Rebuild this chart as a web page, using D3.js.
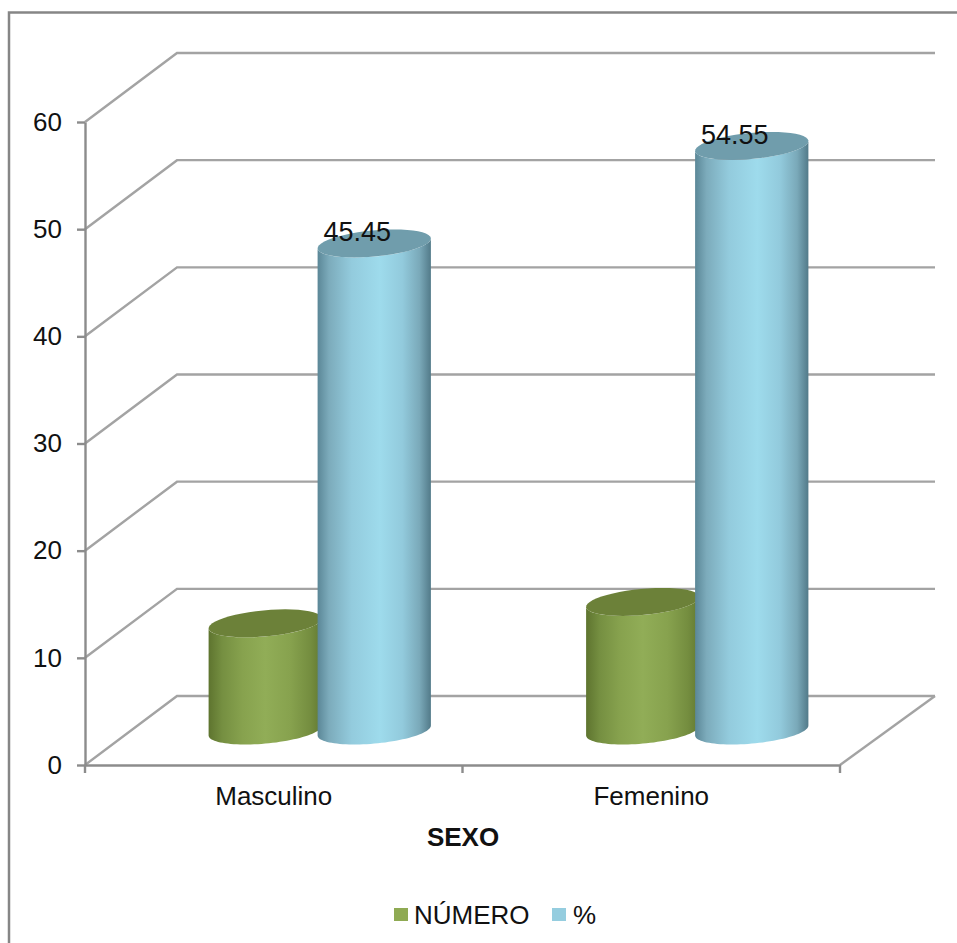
<!DOCTYPE html>
<html>
<head>
<meta charset="utf-8">
<script src="https://cdn.jsdelivr.net/npm/d3@7"></script>
<style>
  html, body { margin: 0; padding: 0; background: #fff; }
  svg { display: block; }
  text { font-family: "Liberation Sans", Arial, sans-serif; fill: #111; }
</style>
</head>
<body>
<div id="chart"></div>
<script>
// Chart data
const categories = ["Masculino", "Femenino"];
const seriesNames = ["NÚMERO", "%"];
const numero = [10, 12];
const porcentaje = [45.45, 54.55];
const yTicks = [0, 10, 20, 30, 40, 50, 60];
const axisTitle = "SEXO";

const width = 957, height = 943;
const svg = d3.select("#chart").append("svg").attr("width", width).attr("height", height);

// Front plane scales plus the depth vector of the 3-D box
const x = d3.scaleBand().domain(categories).range([85, 840]);
const y = d3.scaleLinear().domain([0, 60]).range([765, 122]);
const depth = { dx: 92, dy: -69 };
const gridColor = "#a3a3a3", axisColor = "#8c8c8c";
const fontSize = 26;

// Gradients that shade the cylinders
const defs = svg.append("defs");
function cylGradient(id, stops) {
  const g = defs.append("linearGradient").attr("id", id).attr("x1", 0).attr("x2", 1).attr("y1", 0).attr("y2", 0);
  stops.forEach(([o, c]) => g.append("stop").attr("offset", o).attr("stop-color", c));
}
cylGradient("grad-green", [[0, "#5e742f"], [0.12, "#758f41"], [0.3, "#87a24e"], [0.5, "#91ad57"], [0.72, "#87a24e"], [0.9, "#748d3f"], [1, "#627931"]]);
cylGradient("grad-blue", [[0, "#5b8797"], [0.1, "#7cabbb"], [0.3, "#93cbdd"], [0.55, "#9edbec"], [0.75, "#92cadc"], [0.9, "#7aa9b9"], [1, "#527a89"]]);

// Outer frame
svg.append("path").attr("d", "M9,943V12.5H957").attr("fill", "none").attr("stroke", "#868686").attr("stroke-width", 2.5);

// Back wall gridlines and the diagonals on the side wall
const grid = svg.append("g").attr("fill", "none");
grid.selectAll("path.wall").data(yTicks).join("path").attr("class", "wall")
  .attr("d", v => `M${x.range()[0]},${y(v)}l${depth.dx},${depth.dy}H${x.range()[1] + depth.dx + 3}`)
  .attr("stroke", gridColor).attr("stroke-width", 2.4);
grid.append("path")
  .attr("d", `M${x.range()[1]},${y(0)}l${depth.dx + 3},${depth.dy}`)
  .attr("stroke", gridColor).attr("stroke-width", 2.4);

// Axes
const axisY = svg.append("g").attr("transform", `translate(${x.range()[0]},0)`)
  .call(d3.axisLeft(y).tickValues(yTicks).tickSize(8).tickPadding(15).tickSizeOuter(0));
const axisX = svg.append("g").attr("transform", `translate(0,${y(0)})`)
  .call(d3.axisBottom(x).tickSize(0).tickPadding(22));
const xTickPositions = d3.range(categories.length + 1).map(i => x.range()[0] + i * x.step());
axisX.selectAll("line.sep").data(xTickPositions).join("line").attr("class", "sep")
  .attr("x1", d => d).attr("x2", d => d).attr("y1", 0).attr("y2", 8)
  .attr("stroke", axisColor).attr("stroke-width", 2.4);
[axisY, axisX].forEach(a => {
  a.selectAll(".domain").attr("stroke", axisColor).attr("stroke-width", 2.4);
  a.selectAll(".tick line").attr("stroke", axisColor).attr("stroke-width", 2.4);
  a.selectAll("text").attr("font-size", fontSize).attr("font-family", '"Liberation Sans", Arial, sans-serif').attr("fill", "#111");
});

// Cylinders: each one stands halfway through the depth of the box
const radiusX = 53, skewX = 20, radiusY = 14, barOffset = 54.5;
function ellipsePoint(cx, cy, t) {
  return [cx + radiusX * Math.cos(t) + skewX * Math.sin(t), cy - radiusY * Math.sin(t)];
}
function arcPath(cx, cy, from, to) {
  const n = 48;
  return d3.range(n + 1).map(i => ellipsePoint(cx, cy, from + (to - from) * i / n));
}
function drawCylinder(cx, value, name, gradient, topFill) {
  const base = y(0) + depth.dy / 2;
  const top = base - (y(0) - y(value));
  const a = Math.atan2(skewX, radiusX);
  const line = d3.line();
  // Right silhouette edge, around the lower half of the base, then back along the top
  const body = arcPath(cx, base, a, a - Math.PI).concat(arcPath(cx, top, a - Math.PI, a));
  const g = svg.append("g").attr("class", "cyl").attr("data-series", name);
  g.append("path").attr("d", line(body) + "Z").attr("fill", `url(#${gradient})`);
  g.append("path").attr("d", line(arcPath(cx, top, 0, 2 * Math.PI)) + "Z").attr("fill", topFill);
}
categories.forEach((c, i) => {
  const center = x(c) + x.bandwidth() / 2 + depth.dx / 2;
  drawCylinder(center - barOffset, numero[i], seriesNames[0], "grad-green", "#6c8139");
  drawCylinder(center + barOffset, porcentaje[i], seriesNames[1], "grad-blue", "#709dac");
});

// Value labels over the blue cylinders
categories.forEach((c, i) => {
  const center = x(c) + x.bandwidth() / 2 + depth.dx / 2 + barOffset;
  const base = y(0) + depth.dy / 2;
  svg.append("text").attr("x", center - 17).attr("y", base - (y(0) - y(porcentaje[i])) - 2)
    .attr("text-anchor", "middle").attr("font-size", 27).text(porcentaje[i].toFixed(2));
});

// Axis title
svg.append("text").attr("x", 463).attr("y", 846).attr("text-anchor", "middle")
  .attr("font-size", fontSize).attr("font-weight", "bold").text(axisTitle);

// Legend
const legendX = [394, 552], legendFill = ["#8faa53", "#95cddf"], textX = [414, 573];
seriesNames.forEach((n, i) => {
  svg.append("rect").attr("x", legendX[i]).attr("y", 908).attr("width", 14).attr("height", 13).attr("fill", legendFill[i]);
  svg.append("text").attr("x", textX[i]).attr("y", 924).attr("font-size", fontSize).text(n);
});
</script>
</body>
</html>
